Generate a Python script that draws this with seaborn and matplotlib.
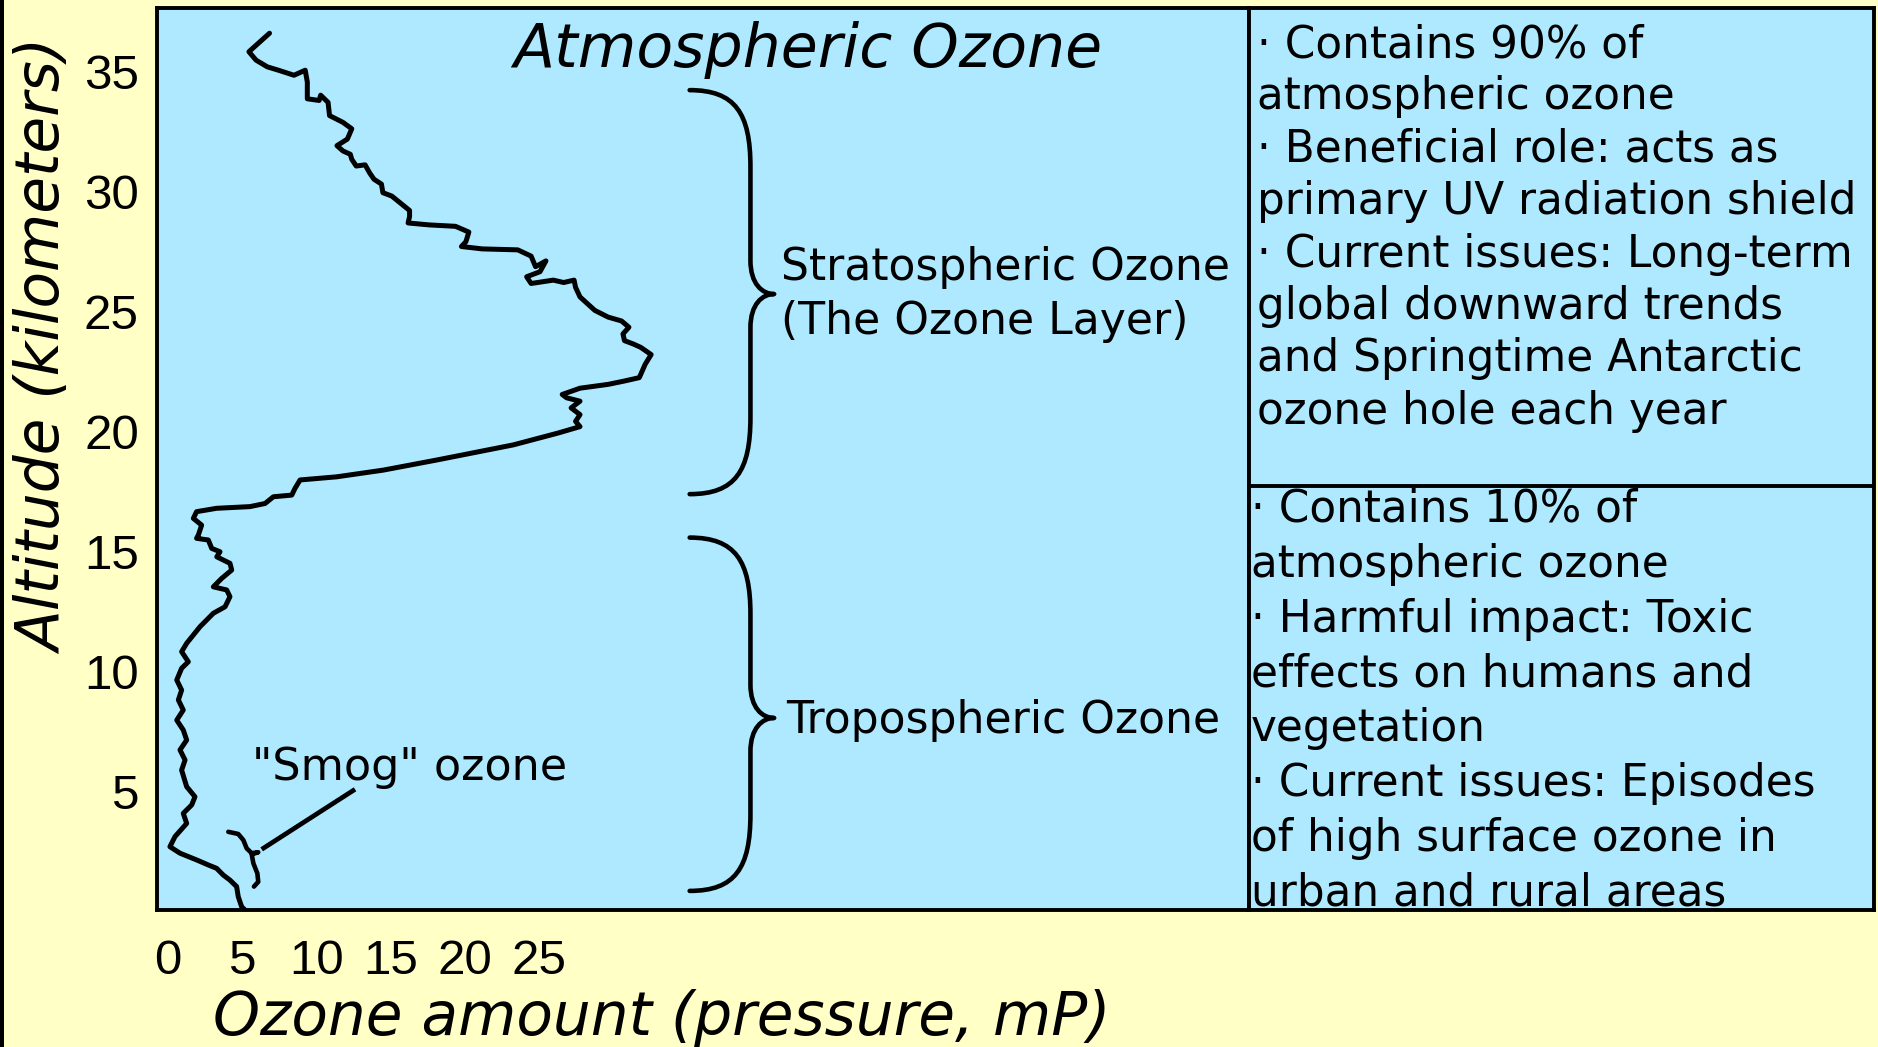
import matplotlib
matplotlib.use("Agg")
import matplotlib.pyplot as plt
from matplotlib.path import Path
from matplotlib.patches import PathPatch, Rectangle
import pandas as pd
import seaborn as sns

# Ozone profile: partial pressure (mPa) against altitude (km), top to bottom
ozone = [
    6.85, 5.46, 5.94, 6.7, 7.45, 8.5, 9.26, 9.4, 9.4, 10.2, 10.3, 10.8, 10.9,
    11.8, 12.4, 12.1, 11.4, 11.8, 12.3, 12.4, 12.7, 13.3, 13.6, 13.9, 14.4,
    14.5, 15.1, 15.7, 16.3, 16.3, 16.2, 17.6, 19.4, 20.3, 20.1, 19.8, 21.2,
    23.6, 24.5, 24.8, 25.5, 25.1, 24.2, 24.5, 26.0, 26.7, 27.4, 27.5, 27.8,
    28.8, 29.7, 30.6, 31.1, 30.7, 30.8, 31.4, 31.9, 32.6, 32.2, 31.8, 30.8,
    29.7, 27.8, 26.6, 26.9, 27.8, 27.2, 27.8, 27.5, 27.8, 26.3, 23.3, 18.13,
    14.53, 11.38, 8.91, 8.57, 8.35, 7.11, 6.55, 5.53, 3.28, 1.93, 1.71, 2.27,
    2.05, 1.93, 2.72, 2.95, 3.51, 3.29, 4.18, 4.3, 3.62, 3.06, 3.96, 4.18,
    3.85, 3.06, 2.16, 1.26, 0.92, 1.37, 0.92, 0.59, 0.92, 0.7, 1.03, 0.59,
    1.03, 1.26, 0.81, 1.15, 0.92, 1.26, 1.82, 1.6, 1.03, 1.26, 0.47, 0.13,
    0.81, 1.93, 2.72, 3.28, 3.73, 4.18, 4.63, 4.74, 4.97, 5.2,
]
altitude = [
    36.58, 35.81, 35.46, 35.18, 35.04, 34.83, 35.04, 34.55, 33.85, 33.78,
    34.0, 33.7, 33.15, 32.87, 32.6, 32.17, 31.9, 31.68, 31.54, 31.33, 31.05,
    31.1, 30.77, 30.5, 30.3, 29.94, 29.8, 29.5, 29.2, 28.95, 28.68, 28.6,
    28.54, 28.3, 27.9, 27.7, 27.6, 27.56, 27.3, 26.86, 27.1, 26.65, 26.44,
    26.16, 26.3, 26.2, 26.3, 26.0, 25.6, 25.04, 24.76, 24.6, 24.34, 24.06,
    23.78, 23.64, 23.5, 23.2, 22.8, 22.24, 22.1, 21.96, 21.8, 21.54, 21.4,
    21.26, 20.98, 20.7, 20.42, 20.2, 19.93, 19.44, 18.81, 18.39, 18.11,
    17.98, 17.63, 17.35, 17.28, 17.0, 16.87, 16.8, 16.66, 16.38, 16.1,
    15.69, 15.55, 15.48, 15.13, 14.99, 14.78, 14.51, 14.23, 13.88, 13.53,
    13.4, 13.12, 12.7, 12.43, 11.87, 11.18, 10.83, 10.41, 10.14, 9.65, 9.23,
    8.82, 8.4, 7.98, 7.57, 7.15, 6.74, 6.32, 5.9, 5.21, 4.79, 4.45, 4.1,
    3.68, 3.13, 2.71, 2.44, 2.16, 1.95, 1.81, 1.53, 1.32, 1.05, 0.63, 0.21,
    0.07,
]

x_ticks = [0, 5, 10, 15, 20, 25]
y_ticks = [5, 10, 15, 20, 25, 30, 35]

# Altitude spans of the two layers and the point of each brace
layer_top = [34.21, 15.58]
layer_bottom = [17.39, 0.87]
layer_tip = [25.72, 8.07]
layer_labels = [["Stratospheric Ozone", "(The Ozone Layer)"], ["Tropospheric Ozone"]]
layer_label_x = [41.35, 41.68]
layer_label_y = [26.29, 7.44]

# Surface smog bracket and its leader line
smog_x = [4.07, 4.74, 5.08, 5.31, 5.65, 6.09, 5.65, 5.76, 6.03, 6.09, 5.8]
smog_y = [3.33, 3.24, 2.99, 2.64, 2.44, 2.48, 2.39, 2.02, 1.6, 1.25, 1.05]
smog_leader_x = [6.32, 12.62]
smog_leader_y = [2.60, 5.10]

strat_notes = [
    "\u00b7 Contains 90% of",
    "atmospheric ozone",
    "\u00b7 Beneficial role: acts as",
    "primary UV radiation shield",
    "\u00b7 Current issues: Long-term",
    "global downward trends",
    "and Springtime Antarctic",
    "ozone hole each year",
]
trop_notes = [
    "\u00b7 Contains 10% of",
    "atmospheric ozone",
    "\u00b7 Harmful impact: Toxic",
    "effects on humans and",
    "vegetation",
    "\u00b7 Current issues: Episodes",
    "of high surface ozone in",
    "urban and rural areas",
]

SKY = "#AEE9FF"
PAPER = "#FFFFC6"
INK = "black"

sns.set_theme(style="white", rc={"axes.edgecolor": INK, "axes.linewidth": 2.8})
plt.rcParams["font.family"] = ["DejaVu Sans"]

W, H = 1878, 1047
fig = plt.figure(figsize=(W / 100, H / 100), dpi=100, facecolor=PAPER)
fig.patches.append(Rectangle((0, 0), 4 / W, 1, transform=fig.transFigure,
                             facecolor=INK, edgecolor="none"))

left, top, bottom, split = 157, 8, 910, 1249
ax = fig.add_axes([left / W, (H - bottom) / H, (split - left) / W, (bottom - top) / H])
side = fig.add_axes([split / W, (H - bottom) / H, (1874 - split) / W, (bottom - top) / H])
for a in (ax, side):
    a.set_facecolor(SKY)
    for s in a.spines.values():
        s.set_color(INK)
        s.set_linewidth(2.8)

profile = pd.DataFrame({"ozone": ozone, "altitude": altitude})
sns.lineplot(data=profile, x="ozone", y="altitude", sort=False, estimator=None,
             color=INK, linewidth=3.6, ax=ax)
for ln in ax.lines:
    ln.set_solid_joinstyle("round")
    ln.set_solid_capstyle("round")

ax.set_xlim(-0.742, 72.94)
ax.set_ylim(0.075, 37.63)
ax.set_xticks(x_ticks)
ax.set_yticks(y_ticks)
ax.tick_params(axis="both", direction="in", length=21.6, width=3.2, color=INK,
               labelsize=35.5, labelcolor=INK, labelfontfamily="Liberation Sans")
ax.tick_params(axis="x", pad=21)
ax.tick_params(axis="y", pad=13)

ax.set_xlabel("Ozone amount (pressure, mP)", fontsize=43, fontstyle="italic", color=INK)
ax.xaxis.label.set_va("baseline")
ax.xaxis.set_label_coords(0.4625, (bottom - 1035) / (bottom - top))
ax.set_ylabel("Altitude (kilometers)", fontsize=43, fontstyle="italic", color=INK)
ax.yaxis.label.set_va("baseline")
ax.yaxis.set_label_coords((62 - left) / (split - left), (bottom - 347) / (bottom - top))

ax.text((808 - left) / (split - left), (bottom - 66.7) / (bottom - top),
        "Atmospheric Ozone", transform=ax.transAxes, ha="center", va="baseline",
        fontsize=43.3, fontstyle="italic", color=INK)


def curly_brace(axis, y_top, y_bot, y_tip, x_end=35.2, x_mid=39.3, x_tip=40.9,
                r_end=3.2, r_tip=1.4):
    dx = x_mid - x_end
    dp = x_tip - x_mid
    verts = [
        (x_end, y_top),
        (x_end + 0.75 * dx, y_top), (x_mid, y_top - 0.3 * r_end), (x_mid, y_top - r_end),
        (x_mid, y_tip + r_tip),
        (x_mid, y_tip + 0.3 * r_tip), (x_tip - 0.5 * dp, y_tip), (x_tip, y_tip),
        (x_tip - 0.5 * dp, y_tip), (x_mid, y_tip - 0.3 * r_tip), (x_mid, y_tip - r_tip),
        (x_mid, y_bot + r_end),
        (x_mid, y_bot + 0.3 * r_end), (x_end + 0.75 * dx, y_bot), (x_end, y_bot),
    ]
    codes = ([Path.MOVETO] + [Path.CURVE4] * 3 + [Path.LINETO] + [Path.CURVE4] * 6
             + [Path.LINETO] + [Path.CURVE4] * 3)
    axis.add_patch(PathPatch(Path(verts, codes), facecolor="none", edgecolor=INK,
                             linewidth=3.3, capstyle="round", joinstyle="round"))


line_step = 2.23
for yt, yb, ytip, lines, lx, ly in zip(layer_top, layer_bottom, layer_tip,
                                      layer_labels, layer_label_x, layer_label_y):
    curly_brace(ax, yt, yb, ytip)
    for i, txt in enumerate(lines):
        ax.text(lx, ly - i * line_step, txt, ha="left", va="baseline",
                fontsize=31.8, color=INK)

ax.plot(smog_x, smog_y, color=INK, linewidth=3.3, solid_joinstyle="round",
        solid_capstyle="round")
ax.plot(smog_leader_x, smog_leader_y, color=INK, linewidth=3.4, solid_capstyle="butt")
ax.text(5.7, 5.49, '"Smog" ozone', ha="left", va="baseline", fontsize=32, color=INK)

# Description panel on the right
side.set_xlim(0, 1)
side.set_ylim(0, 1)
side.set_xticks([])
side.set_yticks([])
span = bottom - top
side.axhline((bottom - 486) / span, color=INK, linewidth=2.8)
for i, txt in enumerate(strat_notes):
    side.text(0.0128, (bottom - 57 - i * 52.4) / span, txt, transform=side.transAxes,
              ha="left", va="baseline", fontsize=31.5, color=INK, clip_on=True)
for i, txt in enumerate(trop_notes):
    side.text(0.0032, (bottom - 522 - i * 54.8) / span, txt, transform=side.transAxes,
              ha="left", va="baseline", fontsize=31.5, color=INK, clip_on=True)

fig.savefig("out.png", dpi=100, facecolor=PAPER)
